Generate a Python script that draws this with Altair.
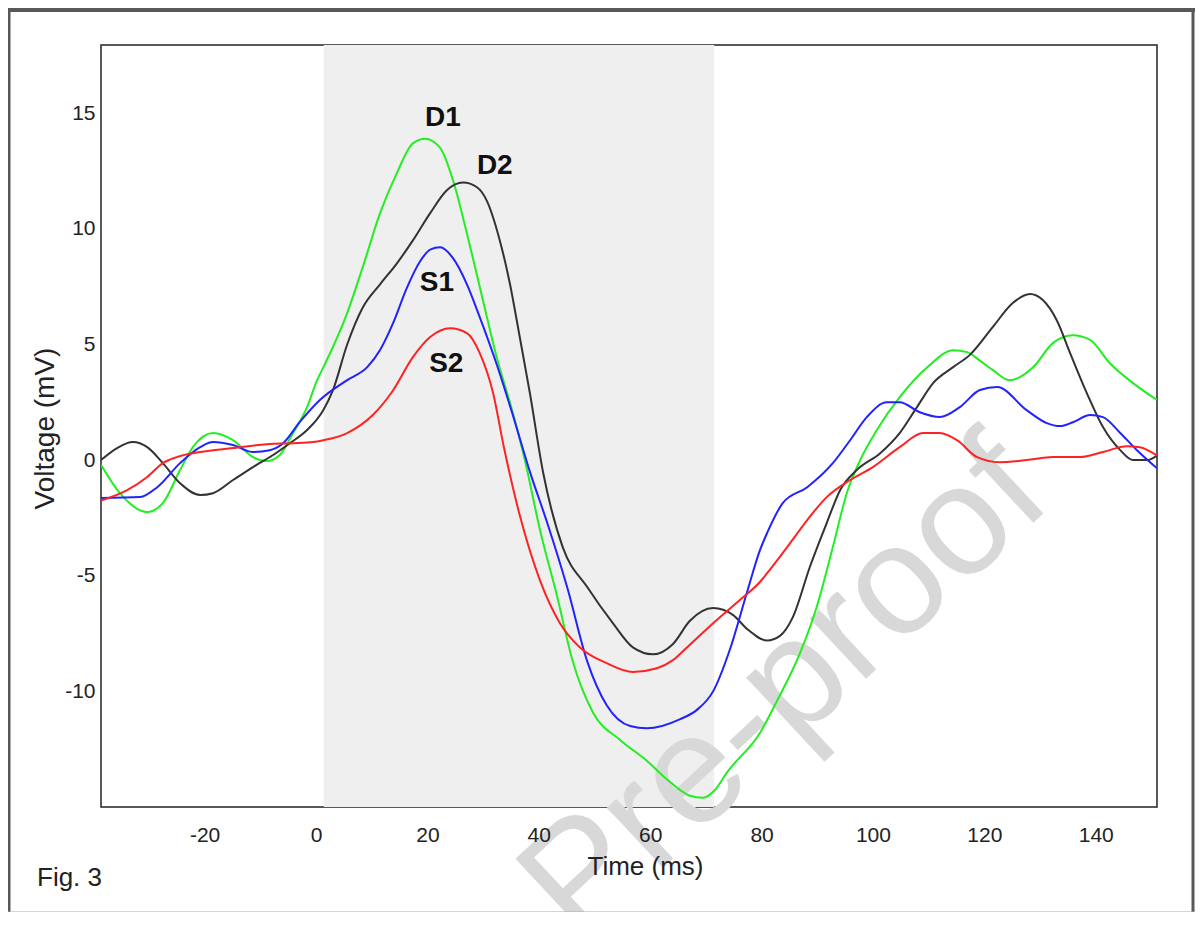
import altair as alt
import pandas as pd

# ---- data ----
d1_t = [-38.6, -35.2, -30.3, -27.5, -24.4, -22.1, -18.5, -14.9, -11.3, -8.8, -6.5, -4.1, -1.6, 0.2, 1.3,
        5.6, 8.4, 11.5, 14.5, 17.4, 19.6, 22.3, 24.6, 27.1, 29.4, 32.5, 35.4, 37.5, 40.2, 43.3, 46.1,
        49.7, 54.6, 59.4, 63.0, 67.0, 69.5, 71.5, 73.8, 79.7, 82.8, 86.9, 89.9, 92.8, 95.3, 97.7,
        100.7, 104.8, 109.7, 114.4, 116.9, 119.2, 121.5, 124.5, 128.7, 132.3, 135.9, 139.0, 142.5,
        146.7, 151.0]
d1_v = [-0.2, -1.43, -2.25, -1.86, -0.43, 0.56, 1.17, 0.86, 0.13, -0.04, 0.22, 1.17, 2.29, 3.46, 4.0,
        6.36, 8.35, 10.68, 12.4, 13.7, 13.9, 13.5, 12.1, 9.8, 7.5, 4.4, 2.0, 0.0, -3.0, -5.9, -8.7,
        -10.9, -12.1, -13.0, -13.8, -14.5, -14.6, -14.3, -13.5, -11.8, -10.4, -8.35, -6.35, -3.76,
        -1.43, 0.0, 1.3, 2.72, 4.0, 4.75, 4.67, 4.3, 3.9, 3.45, 4.0, 5.06, 5.4, 5.2, 4.2, 3.33, 2.6]

d2_t = [-38.6, -35.7, -32.9, -30.3, -27.5, -24.4, -20.8, -18.5, -14.9, -11.3, -7.7, -4.7, -1.6, 1.3,
        3.05, 5.6, 8.4, 11.5, 14.5, 17.4, 20.5, 23.5, 26.4, 28.9, 30.7, 33.0, 34.8, 36.6, 38.4, 40.8,
        44.3, 48.7, 53.3, 56.9, 60.5, 64.1, 67.1, 71.3, 74.9, 77.4, 81.0, 83.3, 85.6, 88.7, 91.7,
        94.1, 97.1, 101.3, 104.8, 107.9, 110.8, 114.4, 117.4, 121.5, 125.1, 128.2, 130.5, 133.0,
        135.4, 138.4, 141.3, 144.4, 146.7, 149.2, 151.0]
d2_v = [0.0, 0.52, 0.78, 0.56, -0.13, -1.0, -1.51, -1.43, -0.86, -0.3, 0.22, 0.73, 1.3, 2.16,
        3.03, 5.0, 6.6, 7.6, 8.5, 9.5, 10.68, 11.67, 12.0, 11.8, 11.2, 9.5, 7.65, 5.3, 2.9, -0.56,
        -3.76, -5.49, -7.05, -8.1, -8.4, -7.95, -6.96, -6.4, -6.7, -7.3, -7.8, -7.6, -6.8, -4.6, -2.72,
        -1.30, -0.43, 0.30, 1.17, 2.29, 3.33, 4.02, 4.55, 5.75, 6.79, 7.18, 6.92, 6.05,
        4.63, 2.9, 1.43, 0.43, 0.0, 0.0, 0.2]

s1_t = [-38.6, -31.6, -28.5, -24.4, -20.8, -18.5, -14.9, -11.3, -8.3, -5.9, -2.9, 0.7, 5.6, 9.2, 11.5,
        13.8, 16.3, 18.7, 20.5, 22.3, 24.6, 27.1, 29.4, 32.5, 35.4, 38.4, 41.5, 45.1, 48.7, 52.2,
        56.4, 59.4, 65.4, 68.4, 71.3, 74.3, 77.4, 79.7, 81.0, 83.8, 88.2, 92.8, 95.9, 98.9, 102.5,
        104.8, 108.4, 112.0, 115.6, 119.2, 122.3, 127.6, 131.2, 133.6, 135.9, 139.0, 141.3, 144.4,
        147.4, 151.0]
s1_v = [-1.64, -1.6, -1.17, -0.13, 0.56, 0.78, 0.65, 0.35, 0.43, 0.73, 1.65, 2.6, 3.46, 4.02, 4.76,
        5.9, 7.44, 8.6, 9.1, 9.2, 8.73, 7.6, 6.18, 4.1, 1.9, -0.5, -2.7, -5.5, -8.7, -10.6,
        -11.5, -11.6, -11.2, -10.8, -10.0, -8.2, -5.7, -3.9, -3.15, -1.86, -1.17, -0.13, 0.86, 1.86,
        2.5, 2.5, 2.07, 1.86, 2.29, 3.03, 3.16, 2.16, 1.6, 1.47, 1.64, 1.95, 1.86, 1.17, 0.43, -0.35]

s2_t = [-38.6, -33.9, -30.3, -27.5, -25.0, -20.8, -14.9, -8.8, -4.1, -0.5, 1.3, 5.6, 10.2, 13.8, 17.4,
        20.5, 24.1, 27.1, 29.4, 31.8, 33.7, 36.6, 40.2, 43.8, 47.4, 52.2, 56.9, 61.2, 64.1, 66.6,
        71.3, 76.1, 79.7, 81.0, 84.6, 88.2, 91.7, 95.9, 100.0, 104.8, 109.0, 112.0, 115.1, 118.7,
        122.8, 127.6, 132.3, 137.2, 141.3, 145.6, 147.9, 151.0]
s2_v = [-1.75, -1.3, -0.73, -0.13, 0.13, 0.35, 0.52, 0.69, 0.73, 0.78, 0.86, 1.17, 1.95, 3.0, 4.45,
        5.32, 5.7, 5.49, 4.63, 2.9, 0.6, -2.4, -5.19, -7.05, -8.1, -8.78, -9.16, -9.0, -8.65, -8.1,
        -7.05, -6.05, -5.27, -4.89, -3.76, -2.59, -1.6, -0.86, -0.3, 0.56, 1.17, 1.17, 0.86, 0.13,
        -0.09, 0.0, 0.13, 0.13, 0.35, 0.6, 0.56, 0.2]

series_names = ["D1", "D2", "S1", "S2"]
series_colors = ["#22ee22", "#333333", "#2222ff", "#ff2222"]

label_text = ["D1", "D2", "S1", "S2"]
label_t = [22.8, 32.1, 21.7, 23.4]
label_v = [14.8, 12.7, 7.65, 4.15]

shade_start = [1.4]
shade_end = [71.5]

x_ticks = [-20, 0, 20, 40, 60, 80, 100, 120, 140]
y_ticks = [-10, -5, 0, 5, 10, 15]

# ---- build tables ----
rows = []
for name, ts, vs in zip(series_names, [d1_t, d2_t, s1_t, s2_t], [d1_v, d2_v, s1_v, s2_v]):
    for t, v in zip(ts, vs):
        rows.append({"series": name, "t": t, "v": v})
lines_df = pd.DataFrame(rows)
labels_df = pd.DataFrame({"label": label_text, "t": label_t, "v": label_v})
shade_df = pd.DataFrame({"start": shade_start, "end": shade_end})
one = pd.DataFrame({"a": [0]})

W, H = 1056, 762
FONT = "Liberation Sans"

xscale = alt.Scale(domain=[-38.6, 151.0], nice=False, zero=False)
yscale = alt.Scale(domain=[-15.0, 17.95], nice=False, zero=False)

xaxis = alt.Axis(values=x_ticks, title="Time (ms)", grid=False, ticks=False, domain=False,
                 labelExpr="'' + datum.value",
                 labelFontSize=21, labelColor="#222", labelPadding=17, labelFont=FONT,
                 titleFont=FONT, titleFontSize=26, titleFontWeight="normal", titleColor="#222",
                 titleX=544, titleY=59, titleBaseline="middle", zindex=1)
yaxis = alt.Axis(values=y_ticks, title="Voltage (mV)", grid=False, ticks=False, domain=False,
                 labelExpr="'' + datum.value",
                 labelFontSize=21, labelColor="#222", labelPadding=6, labelFont=FONT,
                 titleFont=FONT, titleFontSize=28, titleFontWeight="normal", titleColor="#222",
                 titleX=-56, titleY=383, titleBaseline="middle", zindex=1)

shade = alt.Chart(shade_df).mark_rect(color="#efefef").encode(
    x=alt.X("start:Q", scale=xscale, axis=xaxis),
    x2="end:Q",
    y=alt.value(0), y2=alt.value(H),
)

watermark = alt.Chart(one).mark_text(
    text="Pre-proof", font=FONT, fontSize=156, color="#d8d8d8", angle=317,
    align="center", baseline="middle"
).encode(x=alt.value(684), y=alt.value(645))

lines = alt.Chart(lines_df).mark_line(strokeWidth=2, interpolate="monotone", clip=True).encode(
    x=alt.X("t:Q", scale=xscale, axis=xaxis),
    y=alt.Y("v:Q", scale=yscale, axis=yaxis),
    color=alt.Color("series:N", scale=alt.Scale(domain=series_names, range=series_colors), legend=None),
    detail="series:N",
)

labels = alt.Chart(labels_df).mark_text(font=FONT, fontSize=28, fontWeight="bold", color="#111",
                                        align="center", baseline="middle").encode(
    x=alt.X("t:Q", scale=xscale), y=alt.Y("v:Q", scale=yscale), text="label:N")

fig = alt.Chart(one).mark_text(text="Fig. 3", font=FONT, fontSize=26, color="#222",
                               align="left", baseline="middle").encode(
    x=alt.value(-64), y=alt.value(833))

border_col = "#585858"
top_border = alt.Chart(one).mark_rule(color=border_col, strokeWidth=4).encode(
    x=alt.value(-93), x2=alt.value(1094), y=alt.value(-35))
left_border = alt.Chart(one).mark_rule(color=border_col, strokeWidth=3).encode(
    x=alt.value(-92), y=alt.value(-37), y2=alt.value(868))
right_border = alt.Chart(one).mark_rule(color=border_col, strokeWidth=3).encode(
    x=alt.value(1092), y=alt.value(-37), y2=alt.value(868))
bottom_line = alt.Chart(one).mark_rule(color="#aaaaaa", strokeWidth=1).encode(
    x=alt.value(-93), x2=alt.value(1094), y=alt.value(867))

chart = alt.layer(
    shade, watermark, lines, labels, fig, top_border, left_border, right_border, bottom_line
).properties(
    width=W, height=H,
    autosize="none",
    padding={"left": 93, "top": 37, "right": 38, "bottom": 105},
    background="white",
).configure_view(
    stroke="#222", strokeWidth=1.5
)

chart.save("out.html", embed_options={"renderer": "svg", "actions": False})
